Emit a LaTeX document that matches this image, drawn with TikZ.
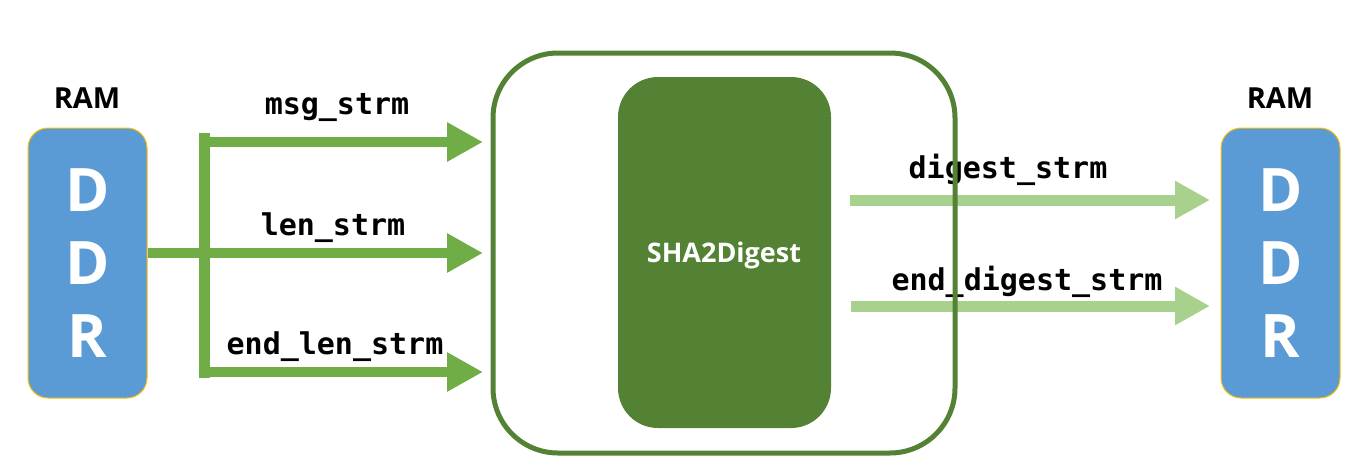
\documentclass[tikz,border=0pt]{standalone}
\usepackage{fontspec}
\setmainfont{Open Sans}
\newfontfamily\lblfont{DejaVu Sans Mono}
\usetikzlibrary{arrows.meta}
\definecolor{ddrblue}{HTML}{5B9BD5}
\definecolor{ddrgold}{HTML}{FFC000}
\definecolor{dkgreen}{HTML}{548235}
\definecolor{midgreen}{HTML}{70AD47}
\definecolor{ltgreen}{HTML}{A9D18E}
\begin{document}
\begin{tikzpicture}[x=1pt,y=-1pt,
  ddr/.style={draw=ddrgold, line width=1pt, fill=ddrblue, rounded corners=20pt,
    minimum width=119pt, minimum height=270pt, inner sep=0pt, align=center,
    text=white, font=\fontsize{60}{73}\selectfont\bfseries},
  ram/.style={inner sep=0pt, font=\fontsize{29}{32}\selectfont\bfseries},
  core/.style={fill=dkgreen, rounded corners=40pt, minimum width=213pt,
    minimum height=351pt, inner sep=0pt, text=white,
    font=\fontsize{27}{30}\selectfont\bfseries},
  outerbox/.style={draw=dkgreen, line width=5pt, rounded corners=65pt,
    minimum width=462pt, minimum height=400pt, inner sep=0pt},
  lbl/.style={inner sep=0pt, font=\lblfont\fontsize{30}{32}\selectfont\bfseries},
  bus/.style={midgreen, line width=11pt},
  inarrow/.style={midgreen, line width=10pt, -{Triangle[length=36pt,width=37pt]}},
  outarrow/.style={ltgreen, line width=11pt, -{Triangle[length=35pt,width=36pt]}}
]
\useasboundingbox (0,0) rectangle (1362,472);

% RAM / DDR blocks
\node[ddr] (ddrL) at (87.5,263) {D\\D\\R};
\node[ram] (ramL) at (87,98) {RAM};
\node[ddr] (ddrR) at (1280.5,263) {D\\D\\R};
\node[ram] (ramR) at (1280,98) {RAM};

% core
\node[core] (sha) at (724.5,252.5) {};
\node[inner sep=0pt, text=white, font=\fontsize{27}{30}\selectfont\bfseries] (shatxt) at (724,255) {SHA2Digest};

% coordinates
\coordinate (busT) at (204,133);
\coordinate (busB) at (204,378);
\coordinate (inA) at (483,142);
\coordinate (inB) at (483,253);
\coordinate (inC) at (483,372);
\coordinate (oAs) at (850,200);
\coordinate (oAe) at (1210,200);
\coordinate (oBs) at (851,306);
\coordinate (oBe) at (1210,306);

% input bus
\draw[bus] (busT) -- (busB);
\draw[inarrow] ([xshift=-5.5pt]busT |- inA) -- (inA);
\draw[inarrow] (ddrL.east |- inB) -- (inB);
\draw[inarrow] ([xshift=-5.5pt]busB |- inC) -- (inC);

% output arrows
\draw[outarrow] (oAs) -- (oAe);
\draw[outarrow] (oBs) -- (oBe);

% labels
\node[lbl] (lmsg) at (337,108) {msg\_strm};
\node[lbl] (llen) at (333,228) {len\_strm};
\node[lbl] (lend) at (335,347) {end\_len\_strm};
\node[lbl] (ldig) at (1008,170) {digest\_strm};
\node[lbl] (lenddig) at (1027,282) {end\_digest\_strm};

% outer module box (drawn on top)
\node[outerbox] (mod) at (724,253) {};
\end{tikzpicture}
\end{document}
